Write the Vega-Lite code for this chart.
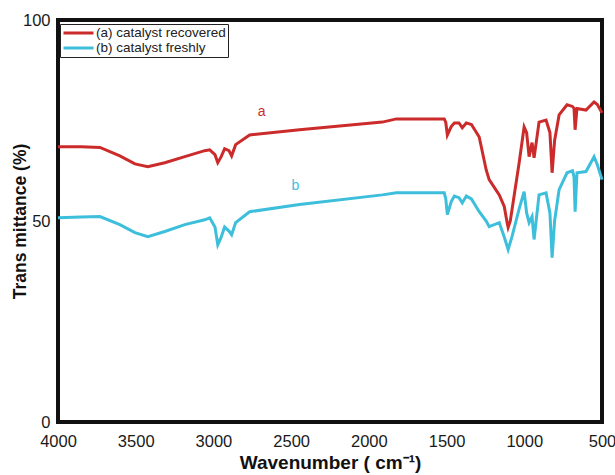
{
  "$schema": "https://vega.github.io/schema/vega-lite/v6.json",
  "width": 544,
  "height": 402,
  "autosize": "none",
  "padding": {"left": 58, "top": 20, "right": 13, "bottom": 53},
  "background": "white",
  "config": {
    "view": {"stroke": "#111", "strokeWidth": 4},
    "font": "Liberation Sans",
    "axis": {"domain": false, "ticks": false, "grid": false, "labelFont": "Liberation Sans", "labelFontSize": 16.5, "labelColor": "#1a1a1a", "titleFont": "Liberation Sans", "titleFontWeight": "bold", "titleColor": "#111"}
  },
  "datasets": {
    "spectra": [
      {"series": "(a) catalyst recovered", "wn": 4000, "t": 68.5},
      {"series": "(a) catalyst recovered", "wn": 3850, "t": 68.5},
      {"series": "(a) catalyst recovered", "wn": 3730, "t": 68.3},
      {"series": "(a) catalyst recovered", "wn": 3602, "t": 66.2},
      {"series": "(a) catalyst recovered", "wn": 3505, "t": 64.2},
      {"series": "(a) catalyst recovered", "wn": 3422, "t": 63.5},
      {"series": "(a) catalyst recovered", "wn": 3313, "t": 64.5},
      {"series": "(a) catalyst recovered", "wn": 3184, "t": 66.0},
      {"series": "(a) catalyst recovered", "wn": 3056, "t": 67.5},
      {"series": "(a) catalyst recovered", "wn": 3024, "t": 67.7},
      {"series": "(a) catalyst recovered", "wn": 2990, "t": 66.5},
      {"series": "(a) catalyst recovered", "wn": 2972, "t": 64.5},
      {"series": "(a) catalyst recovered", "wn": 2950, "t": 66.0},
      {"series": "(a) catalyst recovered", "wn": 2928, "t": 68.0},
      {"series": "(a) catalyst recovered", "wn": 2900, "t": 67.5},
      {"series": "(a) catalyst recovered", "wn": 2883, "t": 66.2},
      {"series": "(a) catalyst recovered", "wn": 2857, "t": 69.0},
      {"series": "(a) catalyst recovered", "wn": 2767, "t": 71.4},
      {"series": "(a) catalyst recovered", "wn": 2446, "t": 72.7},
      {"series": "(a) catalyst recovered", "wn": 1913, "t": 74.6},
      {"series": "(a) catalyst recovered", "wn": 1823, "t": 75.4},
      {"series": "(a) catalyst recovered", "wn": 1515, "t": 75.4},
      {"series": "(a) catalyst recovered", "wn": 1505, "t": 74.5},
      {"series": "(a) catalyst recovered", "wn": 1495, "t": 71.4},
      {"series": "(a) catalyst recovered", "wn": 1470, "t": 73.5},
      {"series": "(a) catalyst recovered", "wn": 1450, "t": 74.4},
      {"series": "(a) catalyst recovered", "wn": 1420, "t": 74.4},
      {"series": "(a) catalyst recovered", "wn": 1399, "t": 73.2},
      {"series": "(a) catalyst recovered", "wn": 1373, "t": 74.4},
      {"series": "(a) catalyst recovered", "wn": 1340, "t": 74.0},
      {"series": "(a) catalyst recovered", "wn": 1290, "t": 70.9},
      {"series": "(a) catalyst recovered", "wn": 1245, "t": 62.7},
      {"series": "(a) catalyst recovered", "wn": 1226, "t": 60.3},
      {"series": "(a) catalyst recovered", "wn": 1161, "t": 56.5},
      {"series": "(a) catalyst recovered", "wn": 1129, "t": 53.6},
      {"series": "(a) catalyst recovered", "wn": 1110, "t": 49.5},
      {"series": "(a) catalyst recovered", "wn": 1104, "t": 48.4},
      {"series": "(a) catalyst recovered", "wn": 1090, "t": 50.0},
      {"series": "(a) catalyst recovered", "wn": 1033, "t": 64.5},
      {"series": "(a) catalyst recovered", "wn": 1001, "t": 73.4},
      {"series": "(a) catalyst recovered", "wn": 985, "t": 72.0},
      {"series": "(a) catalyst recovered", "wn": 969, "t": 66.0},
      {"series": "(a) catalyst recovered", "wn": 950, "t": 69.5},
      {"series": "(a) catalyst recovered", "wn": 937, "t": 65.7},
      {"series": "(a) catalyst recovered", "wn": 905, "t": 74.6},
      {"series": "(a) catalyst recovered", "wn": 860, "t": 75.1},
      {"series": "(a) catalyst recovered", "wn": 835, "t": 72.0},
      {"series": "(a) catalyst recovered", "wn": 821, "t": 62.0},
      {"series": "(a) catalyst recovered", "wn": 805, "t": 70.0},
      {"series": "(a) catalyst recovered", "wn": 776, "t": 76.4},
      {"series": "(a) catalyst recovered", "wn": 725, "t": 78.9},
      {"series": "(a) catalyst recovered", "wn": 690, "t": 78.5},
      {"series": "(a) catalyst recovered", "wn": 680, "t": 78.0},
      {"series": "(a) catalyst recovered", "wn": 673, "t": 72.7},
      {"series": "(a) catalyst recovered", "wn": 661, "t": 78.0},
      {"series": "(a) catalyst recovered", "wn": 603, "t": 77.6},
      {"series": "(a) catalyst recovered", "wn": 551, "t": 79.6},
      {"series": "(a) catalyst recovered", "wn": 530, "t": 79.0},
      {"series": "(a) catalyst recovered", "wn": 500, "t": 76.9},
      {"series": "(b) catalyst freshly", "wn": 4000, "t": 50.8},
      {"series": "(b) catalyst freshly", "wn": 3850, "t": 51.0},
      {"series": "(b) catalyst freshly", "wn": 3730, "t": 51.1},
      {"series": "(b) catalyst freshly", "wn": 3602, "t": 49.1},
      {"series": "(b) catalyst freshly", "wn": 3505, "t": 47.1},
      {"series": "(b) catalyst freshly", "wn": 3422, "t": 46.1},
      {"series": "(b) catalyst freshly", "wn": 3313, "t": 47.4},
      {"series": "(b) catalyst freshly", "wn": 3184, "t": 49.1},
      {"series": "(b) catalyst freshly", "wn": 3056, "t": 50.3},
      {"series": "(b) catalyst freshly", "wn": 3024, "t": 50.8},
      {"series": "(b) catalyst freshly", "wn": 2990, "t": 48.5},
      {"series": "(b) catalyst freshly", "wn": 2972, "t": 44.1},
      {"series": "(b) catalyst freshly", "wn": 2950, "t": 46.0},
      {"series": "(b) catalyst freshly", "wn": 2928, "t": 48.5},
      {"series": "(b) catalyst freshly", "wn": 2900, "t": 47.5},
      {"series": "(b) catalyst freshly", "wn": 2883, "t": 46.6},
      {"series": "(b) catalyst freshly", "wn": 2857, "t": 49.6},
      {"series": "(b) catalyst freshly", "wn": 2767, "t": 52.3},
      {"series": "(b) catalyst freshly", "wn": 2446, "t": 54.1},
      {"series": "(b) catalyst freshly", "wn": 1913, "t": 56.5},
      {"series": "(b) catalyst freshly", "wn": 1823, "t": 57.0},
      {"series": "(b) catalyst freshly", "wn": 1515, "t": 57.0},
      {"series": "(b) catalyst freshly", "wn": 1505, "t": 55.5},
      {"series": "(b) catalyst freshly", "wn": 1495, "t": 51.6},
      {"series": "(b) catalyst freshly", "wn": 1470, "t": 54.8},
      {"series": "(b) catalyst freshly", "wn": 1450, "t": 56.2},
      {"series": "(b) catalyst freshly", "wn": 1420, "t": 55.8},
      {"series": "(b) catalyst freshly", "wn": 1399, "t": 54.5},
      {"series": "(b) catalyst freshly", "wn": 1373, "t": 56.2},
      {"series": "(b) catalyst freshly", "wn": 1340, "t": 55.5},
      {"series": "(b) catalyst freshly", "wn": 1290, "t": 52.3},
      {"series": "(b) catalyst freshly", "wn": 1245, "t": 50.0},
      {"series": "(b) catalyst freshly", "wn": 1226, "t": 48.6},
      {"series": "(b) catalyst freshly", "wn": 1161, "t": 49.6},
      {"series": "(b) catalyst freshly", "wn": 1129, "t": 46.0},
      {"series": "(b) catalyst freshly", "wn": 1104, "t": 42.9},
      {"series": "(b) catalyst freshly", "wn": 1080, "t": 46.0},
      {"series": "(b) catalyst freshly", "wn": 1033, "t": 53.0},
      {"series": "(b) catalyst freshly", "wn": 1001, "t": 57.3},
      {"series": "(b) catalyst freshly", "wn": 985, "t": 52.0},
      {"series": "(b) catalyst freshly", "wn": 969, "t": 49.6},
      {"series": "(b) catalyst freshly", "wn": 950, "t": 51.1},
      {"series": "(b) catalyst freshly", "wn": 937, "t": 45.4},
      {"series": "(b) catalyst freshly", "wn": 905, "t": 56.5},
      {"series": "(b) catalyst freshly", "wn": 860, "t": 57.0},
      {"series": "(b) catalyst freshly", "wn": 835, "t": 52.0},
      {"series": "(b) catalyst freshly", "wn": 821, "t": 40.9},
      {"series": "(b) catalyst freshly", "wn": 805, "t": 50.0},
      {"series": "(b) catalyst freshly", "wn": 776, "t": 57.8},
      {"series": "(b) catalyst freshly", "wn": 725, "t": 62.0},
      {"series": "(b) catalyst freshly", "wn": 690, "t": 62.5},
      {"series": "(b) catalyst freshly", "wn": 680, "t": 61.0},
      {"series": "(b) catalyst freshly", "wn": 673, "t": 52.3},
      {"series": "(b) catalyst freshly", "wn": 661, "t": 62.0},
      {"series": "(b) catalyst freshly", "wn": 603, "t": 62.3},
      {"series": "(b) catalyst freshly", "wn": 551, "t": 66.0},
      {"series": "(b) catalyst freshly", "wn": 530, "t": 64.0},
      {"series": "(b) catalyst freshly", "wn": 500, "t": 60.3}
    ],
    "labels": [
      {"series": "(a) catalyst recovered", "label": "a", "wn": 2690, "t": 77.0},
      {"series": "(b) catalyst freshly", "label": "b", "wn": 2472, "t": 58.8}
    ]
  },
  "layer": [
    {
      "data": {"name": "spectra"},
      "mark": {"type": "line", "strokeWidth": 3, "interpolate": "linear"},
      "encoding": {
        "x": {"field": "wn", "type": "quantitative", "scale": {"domain": [4000, 500], "nice": false, "zero": false}, "axis": {"values": [4000, 3500, 3000, 2500, 2000, 1500, 1000, 500], "format": "d", "title": "Wavenumber ( cm⁻¹)", "titleFontSize": 19, "labelPadding": 11, "titlePadding": 4, "labelFlush": false}},
        "y": {"field": "t", "type": "quantitative", "scale": {"domain": [0, 100], "nice": false}, "axis": {"values": [0, 50, 100], "title": "Trans mittance (%)", "titleFontSize": 17.5, "labelPadding": 8, "titlePadding": -7}},
        "color": {"field": "series", "type": "nominal", "scale": {"domain": ["(a) catalyst recovered", "(b) catalyst freshly"], "range": ["#cc2b2b", "#3dbfdc"]},
          "legend": {"title": null, "orient": "none", "legendX": 2, "legendY": 4, "symbolType": "stroke", "symbolSize": 900, "symbolStrokeWidth": 3, "clipHeight": 14, "labelFontSize": 13.5, "labelFont": "Liberation Sans", "labelColor": "#222", "strokeColor": "#222", "fillColor": "white", "padding": 2, "rowPadding": 1, "labelOffset": 1, "symbolOffset": 0}},
        "detail": {"field": "series"}
      }
    },
    {
      "data": {"name": "labels"},
      "mark": {"type": "text", "fontSize": 14, "font": "Liberation Sans"},
      "encoding": {
        "x": {"field": "wn", "type": "quantitative"},
        "y": {"field": "t", "type": "quantitative"},
        "text": {"field": "label"},
        "color": {"field": "series", "type": "nominal", "legend": null}
      }
    }
  ]
}
